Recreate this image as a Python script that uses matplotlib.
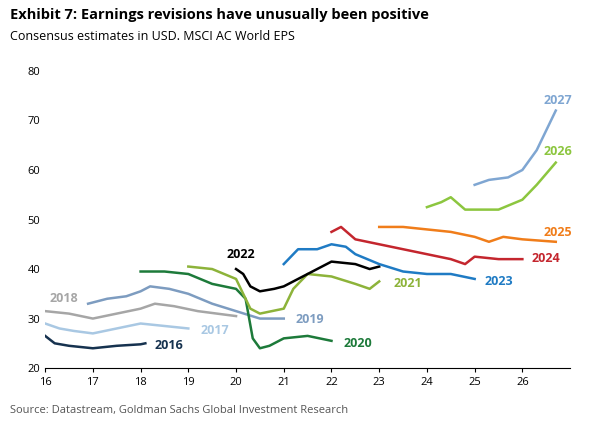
import matplotlib.pyplot as plt

plt.rcParams['font.family'] = ['Open Sans', 'DejaVu Sans']

# (x positions in years, EPS values) for each forecast year
s2016_x = [16, 16.2, 16.5, 17, 17.5, 18, 18.1]
s2016_y = [26.5, 25, 24.5, 24, 24.5, 24.8, 25]
s2017_x = [16, 16.3, 16.6, 17, 17.5, 18, 18.5, 19]
s2017_y = [29, 28, 27.5, 27, 28, 29, 28.5, 28]
s2018_x = [16, 16.5, 17, 17.5, 18, 18.3, 18.7, 19.2, 19.6, 20]
s2018_y = [31.5, 31, 30, 31, 32, 33, 32.5, 31.5, 31, 30.5]
s2019_x = [16.9, 17.3, 17.7, 18, 18.2, 18.6, 19, 19.5, 20, 20.5, 21]
s2019_y = [33, 34, 34.5, 35.5, 36.5, 36, 35, 33, 31.5, 30, 30]
s2020_x = [18, 18.5, 19, 19.5, 20, 20.2, 20.35, 20.5, 20.7, 21, 21.5, 22]
s2020_y = [39.5, 39.5, 39, 37, 36, 34, 26, 24, 24.5, 26, 26.5, 25.5]
s2021_x = [19, 19.5, 20, 20.3, 20.5, 21, 21.2, 21.5, 22, 22.5, 22.8, 23]
s2021_y = [40.5, 40, 38, 32, 31, 32, 36, 39, 38.5, 37, 36, 37.5]
s2022_x = [20, 20.15, 20.3, 20.5, 20.8, 21, 21.3, 21.7, 22, 22.5, 22.8, 23]
s2022_y = [40, 39, 36.5, 35.5, 36, 36.5, 38, 40, 41.5, 41, 40, 40.5]
s2023_x = [21, 21.3, 21.7, 22, 22.3, 22.5, 23, 23.5, 24, 24.5, 25]
s2023_y = [41, 44, 44, 45, 44.5, 43, 41, 39.5, 39, 39, 38]
s2024_x = [22, 22.2, 22.5, 23, 23.5, 24, 24.5, 24.8, 25, 25.5, 26]
s2024_y = [47.5, 48.5, 46, 45, 44, 43, 42, 41, 42.5, 42, 42]
s2025_x = [23, 23.5, 24, 24.5, 25, 25.3, 25.6, 26, 26.7]
s2025_y = [48.5, 48.5, 48, 47.5, 46.5, 45.5, 46.5, 46, 45.5]
s2026_x = [24, 24.3, 24.5, 24.8, 25, 25.5, 26, 26.3, 26.7]
s2026_y = [52.5, 53.5, 54.5, 52, 52, 52, 54, 57, 61.5]
s2027_x = [25, 25.3, 25.7, 26, 26.3, 26.7]
s2027_y = [57, 58, 58.5, 60, 64, 72]

series = [
    ('2016', s2016_x, s2016_y, '#16324f', (18.3, 24.5)),
    ('2017', s2017_x, s2017_y, '#a9c8e3', (19.25, 27.5)),
    ('2018', s2018_x, s2018_y, '#a6a6a6', (16.1, 34)),
    ('2019', s2019_x, s2019_y, '#7d9cc0', (21.25, 29.8)),
    ('2020', s2020_x, s2020_y, '#1d7a3a', (22.25, 25)),
    ('2021', s2021_x, s2021_y, '#8db33a', (23.3, 37)),
    ('2022', s2022_x, s2022_y, '#000000', (19.8, 43)),
    ('2023', s2023_x, s2023_y, '#1f7bc4', (25.2, 37.5)),
    ('2024', s2024_x, s2024_y, '#c4262e', (26.2, 42.2)),
    ('2025', s2025_x, s2025_y, '#f07d1a', (26.45, 47.3)),
    ('2026', s2026_x, s2026_y, '#8cc63f', (26.45, 63.8)),
    ('2027', s2027_x, s2027_y, '#7fa6d2', (26.45, 74)),
]

fig = plt.figure(figsize=(6.02, 4.30), dpi=100)
ax = fig.add_axes([0.075, 0.144, 0.872, 0.691])
for name, xs, ys, c, (tx, ty) in series:
    ax.plot(xs, ys, color=c, lw=1.8)
    ax.text(tx, ty, name, color=c, fontsize=9, fontweight='bold', va='center')

ax.set_xlim(16, 27)
ax.set_ylim(20, 80)
ax.set_xticks(range(16, 27))
ax.set_yticks(range(20, 81, 10))
ax.tick_params(labelsize=8, length=3)
for s in ['top', 'right', 'left']:
    ax.spines[s].set_visible(False)
ax.tick_params(axis='y', length=0)

fig.text(0.017, 0.965, 'Exhibit 7: Earnings revisions have unusually been positive',
         fontsize=10.5, fontweight='bold', va='center')
fig.text(0.017, 0.915, 'Consensus estimates in USD. MSCI AC World EPS', fontsize=9, va='center')
fig.text(0.017, 0.045, 'Source: Datastream, Goldman Sachs Global Investment Research',
         fontsize=8, color='#555555', va='center')
fig.savefig('out.png', dpi=100)
